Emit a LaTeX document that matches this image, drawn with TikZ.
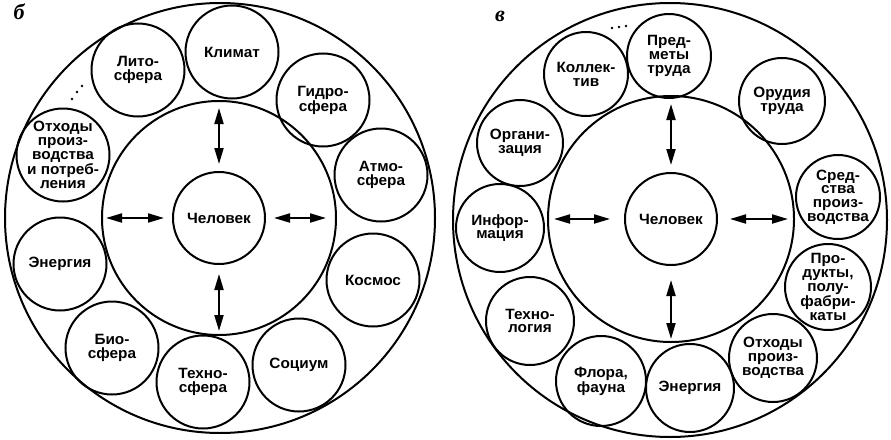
\documentclass[tikz,border=0pt]{standalone}
\usepackage{fontspec}
\setmainfont{Liberation Sans}[FakeStretch=1.03]
\newfontfamily\lblfont{Liberation Serif}
\usetikzlibrary{arrows.meta}
\newcommand\fs{\fontsize{14.9}{13.8}\selectfont\bfseries}
\begin{document}
\begin{tikzpicture}[x=1pt,y=-1pt,
  ring/.style={circle,draw,line width=2pt,minimum size=#1,inner sep=0pt},
  txt/.style={align=center,font=\fs,inner sep=0pt},
  dbl/.style={{Triangle[length=16pt,width=9pt]}-{Triangle[length=16pt,width=9pt]},line width=2pt},
  tag/.style={font=\lblfont\bfseries\itshape\fontsize{22}{22}\selectfont,inner sep=0pt}]
\useasboundingbox (0,0) rectangle (891,439);
% ---------- left diagram (б) ----------
\node[tag] (labB) at (19,12) {б};
\node[ring=430pt] (outB) at (220,218) {};
\node[ring=234pt] (inB) at (219,218) {};
\node[ring=92pt,label={[txt]center:Человек}] (manB) at (219,218) {};
\node[ring=93pt,label={[txt]center:Климат}] (klimB) at (232,52) {};
\node[ring=93pt,label={[txt]center:{Гидро-\\сфера}}] (gidrB) at (323,100) {};
\node[ring=93pt,label={[txt]center:{Атмо-\\сфера}}] (atmB) at (381,175) {};
\node[ring=93pt,label={[txt]center:Космос}] (kosmB) at (373,280) {};
\node[ring=93pt,label={[txt]center:Социум}] (socB) at (299,365) {};
\node[ring=93pt,label={[txt]center:{Техно-\\сфера}}] (techB) at (203,382) {};
\node[ring=93pt,label={[txt]center:{Био-\\сфера}}] (bioB) at (112,348) {};
\node[ring=93pt,label={[txt]center:Энергия}] (enerB) at (60,264) {};
\node[ring=93pt,label={[txt]center:{Отходы\\произ-\\водства\\и потреб-\\ления}}] (othB) at (63,155) {};
\node[ring=93pt,label={[txt]center:{Лито-\\сфера}}] (litoB) at (138,70) {};
\draw[dbl,shorten <=8pt,shorten >=7pt] (inB.north) -- (manB.north);
\draw[dbl,shorten <=9pt,shorten >=5pt] (manB.south) -- (inB.south);
\draw[dbl,shorten <=5pt,shorten >=8pt] (inB.west) -- (manB.west);
\draw[dbl,shorten <=8pt,shorten >=11pt] (manB.east) -- (inB.east);
\fill (72,99) circle (1.4pt) (77,92) circle (1.4pt) (82,86) circle (1.4pt);
% ---------- right diagram (в) ----------
\node[tag] (labV) at (500,16) {в};
\node[ring=434pt] (outV) at (670,220) {};
\node[ring=246pt] (inV) at (671,219) {};
\node[ring=92pt,label={[txt]center:Человек}] (manV) at (671,219) {};
\node[ring=84pt,label={[txt]center:{Пред-\\меты\\труда}}] (predV) at (669,56) {};
\node[ring=84pt,label={[txt]center:{Коллек-\\тив}}] (kollV) at (586,74) {};
\node[ring=86pt,label={[txt]center:{Орудия\\труда}}] (orudV) at (782,101) {};
\node[ring=86pt,label={[txt]center:{Органи-\\зация}}] (orgV) at (520,143) {};
\node[ring=84pt,label={[txt]center:{Сред-\\ства\\произ-\\водства}}] (sredV) at (838,197) {};
\node[ring=88pt,label={[txt]center:{Инфор-\\мация}}] (infV) at (500,228) {};
\node[ring=86pt,label={[txt]center:{Про-\\дукты,\\полу-\\фабри-\\каты}}] (produV) at (828,287) {};
\node[ring=88pt,label={[txt]center:{Техно-\\логия}}] (techV) at (530,321) {};
\node[ring=88pt,label={[txt]center:{Отходы\\произ-\\водства}}] (othV) at (773,358) {};
\node[ring=90pt,label={[txt]center:{Флора,\\фауна}}] (florV) at (601,381) {};
\node[ring=88pt,label={[txt]center:Энергия}] (enerV) at (690,388) {};
\draw[dbl,shorten <=9pt,shorten >=7pt] (inV.north) -- (manV.north);
\draw[dbl,shorten <=14pt,shorten >=4pt] (manV.south) -- (inV.south);
\draw[dbl,shorten <=7pt,shorten >=14pt] (inV.west) -- (manV.west);
\draw[dbl,shorten <=12pt,shorten >=7pt] (manV.east) -- (inV.east);
\fill (612,28) circle (1.4pt) (619,27) circle (1.4pt) (626,26) circle (1.4pt);
\end{tikzpicture}
\end{document}
